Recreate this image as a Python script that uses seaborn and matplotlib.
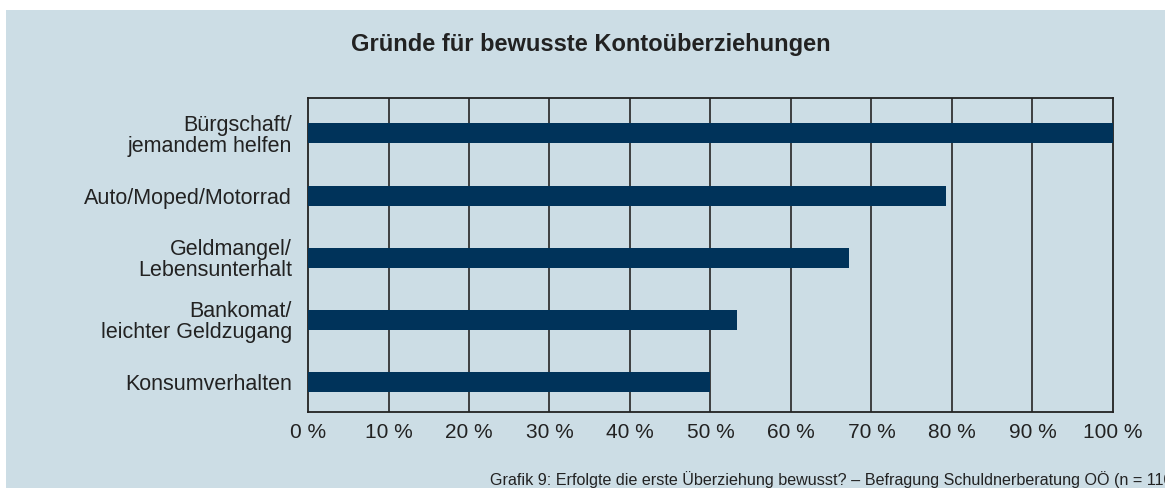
import matplotlib
matplotlib.use("Agg")
import matplotlib.pyplot as plt
import seaborn as sns
import pandas as pd
from matplotlib.patches import Rectangle

# data
categories = [
    "Bürgschaft/\njemandem helfen",
    "Auto/Moped/Motorrad",
    "Geldmangel/\nLebensunterhalt",
    "Bankomat/\nleichter Geldzugang",
    "Konsumverhalten",
]
values = [100, 79.2, 67.2, 53.3, 50]
xticks = [0, 10, 20, 30, 40, 50, 60, 70, 80, 90, 100]
xtick_labels = [f"{t} %" for t in xticks]

title = "Gründe für bewusste Kontoüberziehungen"
footnote = "Grafik 9: Erfolgte die erste Überziehung bewusst? – Befragung Schuldnerberatung OÖ (n = 110)"

bg = "#ccdde5"
bar_color = "#00335a"
text_color = "#222222"

sns.set_theme(style="white")
plt.rcParams["font.family"] = ["Liberation Sans", "DejaVu Sans"]

df = pd.DataFrame({"Grund": categories, "Anteil": values})

fig = plt.figure(figsize=(11.65, 4.88), dpi=100, facecolor="white")
fig.patches.append(Rectangle((6 / 1165, 0), 1, 1 - 10 / 488, transform=fig.transFigure,
                             facecolor=bg, edgecolor="none", zorder=-1))

ax = fig.add_axes([308 / 1165, 1 - 412 / 488, 805 / 1165, 314 / 488])
ax.set_facecolor(bg)

sns.barplot(data=df, x="Anteil", y="Grund", color=bar_color, width=0.32,
            saturation=1, linewidth=0, ax=ax, zorder=3)

ax.set_xlim(0, 100)
ax.set_ylim(4.48, -0.57)
ax.set_xticks(xticks)
ax.set_xticklabels(xtick_labels, fontsize=15, color=text_color)
ax.tick_params(axis="y", labelsize=15.5, labelcolor=text_color, length=0, pad=11.5)
ax.tick_params(axis="x", length=0, pad=8)
for lab in ax.get_yticklabels():
    lab.set_linespacing(1.0)
ax.set_xlabel("")
ax.set_ylabel("")

for t in xticks[1:-1]:
    ax.axvline(t, color="#333333", linewidth=1.3, zorder=1)
for side in ax.spines.values():
    side.set_color("#222222")
    side.set_linewidth(1.3)

fig.text(591 / 1165, 1 - 45 / 488, title, ha="center", va="center",
         fontsize=17, fontweight="bold", color=text_color)
# the footnote runs off the right edge in the original as well
fig.text(490 / 1165, 1 - 485 / 488, footnote, ha="left", va="baseline",
         fontsize=11.6, color=text_color)

fig.savefig("out.png", dpi=100, facecolor=fig.get_facecolor())
